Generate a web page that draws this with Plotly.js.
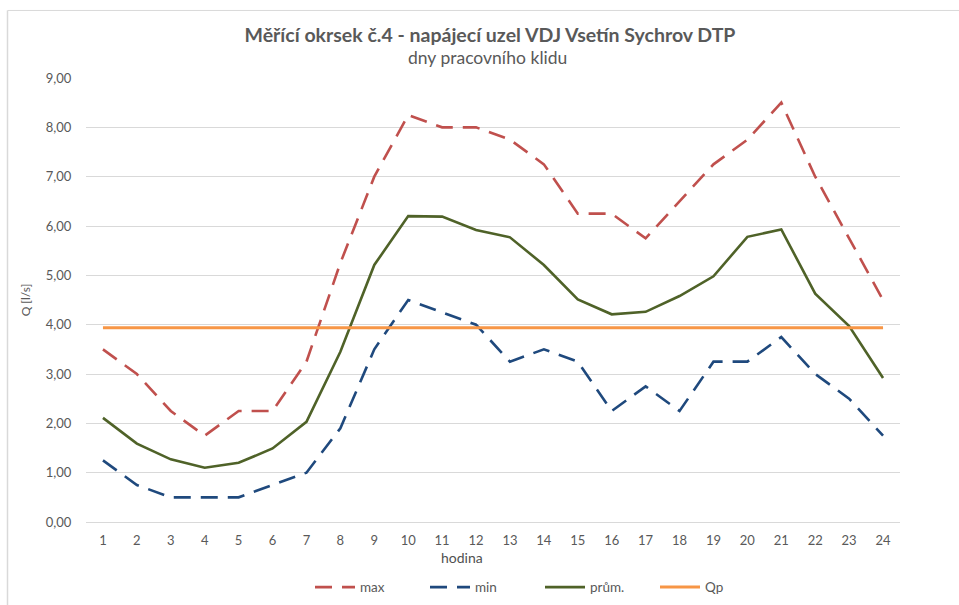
<!DOCTYPE html>
<html>
<head>
<meta charset="utf-8">
<script src="https://cdn.plot.ly/plotly-3.0.1.min.js"></script>
<style>html,body{margin:0;padding:0;background:#fff;}#chart{width:959px;height:605px;}</style>
</head>
<body>
<div id="chart"></div>
<script>
const hours = [1,2,3,4,5,6,7,8,9,10,11,12,13,14,15,16,17,18,19,20,21,22,23,24];
const maxQ = [3.5,3.0,2.25,1.75,2.25,2.25,3.25,5.25,7.0,8.25,8.0,8.0,7.75,7.25,6.25,6.25,5.75,6.5,7.25,7.75,8.5,7.0,5.75,4.5];
const minQ = [1.25,0.75,0.5,0.5,0.5,0.75,1.0,1.9,3.5,4.5,4.25,4.0,3.25,3.5,3.25,2.25,2.75,2.25,3.25,3.25,3.75,3.0,2.5,1.75];
const avgQ = [2.11,1.59,1.27,1.10,1.20,1.49,2.03,3.45,5.21,6.20,6.19,5.92,5.77,5.21,4.51,4.21,4.26,4.58,4.98,5.78,5.93,4.63,3.97,2.92];
const qpVal = 3.94;
const qp = hours.map(() => qpVal);
const seriesNames = ["max","min","prům.","Qp"];
const titleText = "Měřící okrsek č.4 - napájecí uzel VDJ Vsetín Sychrov DTP";
const subtitleText = "dny pracovního klidu";
const xTitle = "hodina";
const yTitle = "Q [l/s]";

const font = "Lato, 'Open Sans', sans-serif";
const grey = "#595959";

const L=86, R=900, T=78, B=521.7;
const W=959, H=605;
const px = x => (x - L)/(R - L);
const py = y => (B - y)/(B - T);

const traces = [
  {x: hours, y: maxQ, name: seriesNames[0], mode: "lines", line: {color: "#C0504D", width: 2.6, dash: "17px,10px"}},
  {x: hours, y: minQ, name: seriesNames[1], mode: "lines", line: {color: "#1F497D", width: 2.6, dash: "17px,10px"}},
  {x: hours, y: avgQ, name: seriesNames[2], mode: "lines", line: {color: "#4F6228", width: 2.6}},
  {x: hours, y: qp, name: seriesNames[3], mode: "lines", line: {color: "#F79646", width: 3}}
];

const layout = {
  width: W, height: H,
  margin: {l: L, r: W - R, t: T, b: H - B, autoexpand: false},
  paper_bgcolor: "#fff", plot_bgcolor: "#fff",
  separators: ", ",
  font: {family: font, color: grey, size: 13},
  showlegend: true,
  title: {text: "<b>" + titleText + "</b>",
          font: {family: font, size: 19.5, color: grey},
          xref: "paper", x: px(490), xanchor: "center",
          yref: "container", y: 1 - 35/H, yanchor: "middle"},
  annotations: [
    {text: subtitleText, xref: "paper", yref: "paper", x: px(487), y: py(58), xanchor: "center", yanchor: "middle",
     showarrow: false, font: {family: font, size: 17.5, color: grey}},
    {text: xTitle, xref: "paper", yref: "paper", x: px(462), y: py(557), xanchor: "center", yanchor: "middle",
     showarrow: false, font: {family: font, size: 14, color: "#505050"}}
  ],
  xaxis: {
    range: [0.5, 24.5], tickvals: hours, ticktext: hours.map(String),
    showgrid: false, zeroline: false, showline: false,
    ticks: "outside", ticklen: 6, tickcolor: "rgba(0,0,0,0)",
    tickfont: {size: 13, color: grey, family: font}
  },
  yaxis: {
    range: [0, 9], dtick: 1, tickformat: ".2f",
    showgrid: true, gridcolor: "#d9d9d9", gridwidth: 1,
    zeroline: true, zerolinecolor: "#d9d9d9", zerolinewidth: 1,
    showline: false,
    ticks: "outside", ticklen: 11, tickcolor: "rgba(0,0,0,0)",
    tickfont: {size: 13, color: grey, family: font},
    title: {text: yTitle, font: {size: 12, color: grey, family: font}, standoff: 12}
  },
  legend: {orientation: "h", x: px(540), xanchor: "center", y: py(587), yanchor: "middle",
           font: {size: 13.5, color: grey, family: font}, entrywidth: 60, itemwidth: 40,
           bgcolor: "rgba(0,0,0,0)"},
  shapes: [
    {type: "line", xref: "paper", yref: "paper", x0: px(7.5), x1: px(960), y0: py(10.5), y1: py(10.5), line: {color: "#d9d9d9", width: 1}},
    {type: "line", xref: "paper", yref: "paper", x0: px(7.5), x1: px(7.5), y0: py(10.5), y1: py(606), line: {color: "#d9d9d9", width: 1.5}}
  ]
};

Plotly.newPlot("chart", traces, layout, {displayModeBar: false, responsive: false});
</script>
</body>
</html>
